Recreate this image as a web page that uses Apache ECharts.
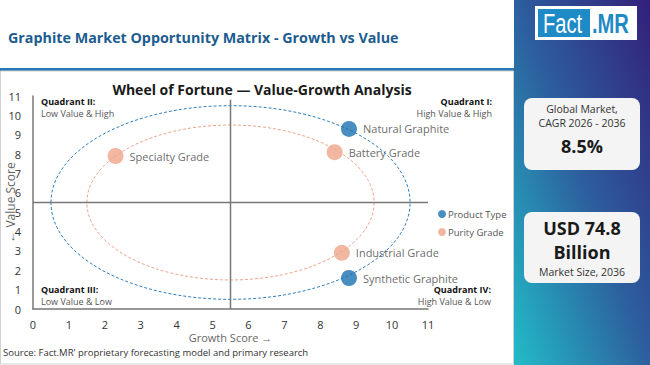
<!DOCTYPE html>
<html><head><meta charset="utf-8">
<script src="https://cdn.jsdelivr.net/npm/echarts@6/dist/echarts.min.js"></script>
<style>html,body{margin:0;padding:0;background:#fff}#c{width:650px;height:365px}</style>
</head><body><div id="c"></div>
<script>
// ---- data ----
const productNames = ['Natural Graphite', 'Synthetic Graphite'];
const productGrowth = [8.8, 8.8];
const productValue = [9.3, 1.6];
const purityNames = ['Specialty Grade', 'Battery Grade', 'Industrial Grade'];
const purityGrowth = [2.3, 8.4, 8.6];
const purityValue = [7.9, 8.1, 2.9];
const ringCenter = [5.5, 5.5];
const ringRadii = [5, 4]; // Product Type ring, Purity Grade ring
const quadrantSplit = 5.5;
const axisMin = 0, axisMax = 11;
const quadrantTitles = ['Quadrant I:', 'Quadrant II:', 'Quadrant III:', 'Quadrant IV:'];
const quadrantTexts = ['High Value & High', 'Low Value & High', 'Low Value & Low', 'High Value & Low'];

const FONT = '"Open Sans", "Noto Sans", sans-serif';
const LOGO_FONT = '"Liberation Sans Narrow", "Liberation Sans", sans-serif';
const BLUE = '#1a72b1', ORANGE = '#eea58a';

const chart = echarts.init(document.getElementById('c'), null, {renderer: 'svg'});

function ringSeries(name, r, color) {
  return {
    type: 'custom', name: name + ' ring', silent: true, clip: false, z: 1,
    data: [[ringCenter[0], ringCenter[1], r]],
    renderItem: (params, api) => {
      const c = api.coord([api.value(0), api.value(1)]);
      const s = api.size([api.value(2), api.value(2)]);
      return {type: 'ellipse', shape: {cx: c[0], cy: c[1], rx: s[0], ry: s[1]},
        style: {fill: 'none', stroke: color, lineWidth: 1, lineDash: [3, 2]}};
    }
  };
}

function txt(x, y, text, font, fill, align, extra) {
  return Object.assign({type: 'text', x: x, y: y,
    style: {text: text, font: font, fill: fill, align: align || 'left', verticalAlign: 'middle'}}, extra || {});
}

const option = {
  backgroundColor: '#fff',
  animation: false,
  grid: {left: 33, right: 222, top: 96, bottom: 56, outerBoundsMode: 'none', containLabel: false},
  xAxis: {
    type: 'value', min: axisMin, max: axisMax, interval: 1,
    name: 'Growth Score →', nameLocation: 'middle', nameGap: 23, nameMoveOverlap: false,
    nameTextStyle: {fontFamily: FONT, fontSize: 11, color: '#666'},
    axisLine: {show: true, lineStyle: {color: '#777', width: 1.5}},
    axisTick: {show: false}, splitLine: {show: false},
    axisLabel: {margin: 10, fontFamily: FONT, fontSize: 11, color: '#333'}
  },
  yAxis: {
    type: 'value', min: axisMin, max: axisMax, interval: 1,
    name: '← Value Score', nameLocation: 'middle', nameGap: 17, nameRotate: 90, nameMoveOverlap: false,
    nameTextStyle: {fontFamily: FONT, fontSize: 12, color: '#666'},
    axisLine: {show: true, lineStyle: {color: '#777', width: 1.5}},
    axisTick: {show: false}, splitLine: {show: false},
    axisLabel: {margin: 12, fontFamily: FONT, fontSize: 11, color: '#333'}
  },
  legend: {
    orient: 'vertical', left: 433, top: 204, itemWidth: 8, itemHeight: 8, itemGap: 8,
    icon: 'circle', data: ['Product Type', 'Purity Grade'],
    textStyle: {fontFamily: FONT, fontSize: 9.5, color: '#555', padding: [0, 0, 0, -3]}
  },
  title: {
    text: 'Wheel of Fortune — Value-Growth Analysis', left: 257, top: 77, textAlign: 'center',
    textStyle: {fontFamily: FONT, fontSize: 14, fontWeight: 'bold', color: '#1a1a1a'}
  },
  series: [
    ringSeries('Product Type', ringRadii[0], '#2f7fbf'),
    ringSeries('Purity Grade', ringRadii[1], '#efa58c'),
    {type: 'line', silent: true, symbol: 'none', z: 2, lineStyle: {color: '#777', width: 1.5},
      data: [[quadrantSplit, axisMin], [quadrantSplit, 10.8]]},
    {type: 'line', silent: true, symbol: 'none', z: 2, lineStyle: {color: '#777', width: 1.5},
      data: [[axisMin, quadrantSplit], [axisMax, quadrantSplit]]},
    {type: 'scatter', name: 'Product Type', z: 5, symbolSize: 16, itemStyle: {color: BLUE},
      data: productNames.map((n, i) => ({name: n, value: [productGrowth[i], productValue[i]]})),
      label: {show: true, position: 'right', distance: 6, formatter: '{b}', fontFamily: FONT, fontSize: 11, color: '#444'}},
    {type: 'scatter', name: 'Purity Grade', z: 5, symbolSize: 16, itemStyle: {color: ORANGE},
      data: purityNames.map((n, i) => ({name: n, value: [purityGrowth[i], purityValue[i]]})),
      label: {show: true, position: 'right', distance: 6, formatter: '{b}', fontFamily: FONT, fontSize: 11, color: '#444'}}
  ],
  graphic: [
    // header
    {type: 'rect', x: 0, y: 68, z: -1, shape: {width: 514, height: 3}, style: {fill: '#2678b4'}},
    txt(8, 37, 'Graphite Market Opportunity Matrix - Growth vs Value', 'bold 14.3px ' + FONT, '#1d5c8f'),
    // chart panel border
    {type: 'rect', x: 0, y: 71, z: -1, shape: {x: 0.5, y: 0, width: 513, height: 293}, style: {fill: 'none', stroke: '#d0d0d0', lineWidth: 1}},
    // source
    txt(3, 352, "Source: Fact.MR' proprietary forecasting model and primary research", '9.5px ' + FONT, '#333'),
    // quadrant labels
    txt(41, 101, quadrantTitles[1], 'bold 9px ' + FONT, '#111'),
    txt(41, 113, quadrantTexts[1], '9px ' + FONT, '#555'),
    txt(492, 101, quadrantTitles[0], 'bold 9px ' + FONT, '#111', 'right'),
    txt(492, 113, quadrantTexts[0], '9px ' + FONT, '#555', 'right'),
    txt(41, 289, quadrantTitles[2], 'bold 9px ' + FONT, '#111'),
    txt(41, 301, quadrantTexts[2], '9px ' + FONT, '#555'),
    txt(491, 289, quadrantTitles[3], 'bold 9px ' + FONT, '#111', 'right'),
    txt(491, 301, quadrantTexts[3], '9px ' + FONT, '#555', 'right'),
    // right panel
    {type: 'rect', x: 514, y: 0, z: -2, shape: {width: 136, height: 365},
      style: {fill: new echarts.graphic.LinearGradient(1, 0, 0, 1, [
        {offset: 0, color: '#33207a'}, {offset: 0.5, color: '#2d5f9e'}, {offset: 1, color: '#22bcc8'}])}},
    // logo
    {type: 'rect', x: 535, y: 6, shape: {width: 102, height: 34}, style: {fill: '#fff'}},
    {type: 'rect', x: 538, y: 9, shape: {width: 52, height: 28}, style: {fill: '#1e8ac6'}},
    txt(543, 23, 'Fact', '28px ' + LOGO_FONT, '#fff', 'left', {scaleX: 0.72, z: 10}),
    txt(592, 23, '.MR', 'bold 28px ' + LOGO_FONT, '#1e8ac6', 'left', {scaleX: 0.72, z: 10}),
    // card 1
    {type: 'rect', x: 524, y: 98, shape: {width: 116, height: 72, r: 8}, style: {fill: '#f4f4f4'}},
    txt(582, 109, 'Global Market,', '10.5px ' + FONT, '#333', 'center'),
    txt(582, 123, 'CAGR 2026 - 2036', '10.5px ' + FONT, '#333', 'center'),
    txt(582, 146, '8.5%', 'bold 18px ' + FONT, '#1a1a1a', 'center'),
    // card 2
    {type: 'rect', x: 524, y: 212, shape: {width: 116, height: 71, r: 8}, style: {fill: '#f4f4f4'}},
    txt(582, 228, 'USD 74.8', 'bold 18px ' + FONT, '#1a1a1a', 'center'),
    txt(582, 252, 'Billion', 'bold 18px ' + FONT, '#1a1a1a', 'center'),
    txt(582, 272, 'Market Size, 2036', '10.5px ' + FONT, '#333', 'center')
  ]
};
chart.setOption(option);
</script></body></html>
